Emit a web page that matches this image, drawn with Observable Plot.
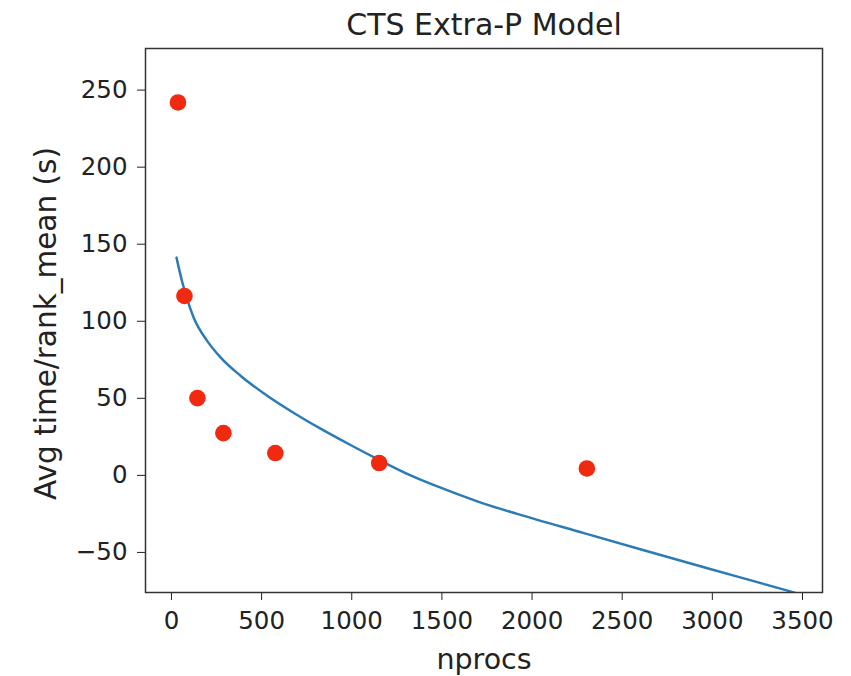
<!DOCTYPE html>
<html>
<head>
<meta charset="utf-8">
<script src="https://cdn.jsdelivr.net/npm/d3@7"></script>
<script src="https://cdn.jsdelivr.net/npm/@observablehq/plot@0.6"></script>
<style>
  html, body { margin: 0; padding: 0; background: #fff; }
</style>
</head>
<body>
<div id="chart"></div>
<script>
// Measured data points (nprocs vs avg time)
const nprocs = [36, 72, 144, 288, 576, 1152, 2304];
const avgTime = [242, 116.4, 50.1, 27.4, 14.5, 8.0, 4.5];

// Extra-P model curve
const modelX = [28, 59, 87, 124, 198, 272, 383, 531, 679, 827, 993, 1152, 1326, 1493, 1700, 1918, 2288, 2610, 2973, 3417, 3456];
const modelY = [141.3, 125.8, 114.3, 102.1, 87.3, 76.6, 64.7, 51.7, 40.5, 30.3, 19.7, 10, 0, -8, -17, -25, -37.5, -48.3, -60.3, -74.8, -76.1];

const xTicks = [0, 500, 1000, 1500, 2000, 2500, 3000, 3500];
const yTicks = [-50, 0, 50, 100, 150, 200, 250];

const title = "CTS Extra-P Model";
const xLabel = "nprocs";
const yLabel = "Avg time/rank_mean (s)";

const points = nprocs.map((x, i) => ({x, y: avgTime[i]}));
const model = modelX.map((x, i) => ({x, y: modelY[i]}));

const chart = Plot.plot({
  width: 851,
  height: 676,
  marginLeft: 145,
  marginRight: 29,
  marginTop: 48,
  marginBottom: 84,
  style: {fontFamily: "DejaVu Sans", fontSize: "24.5px", color: "#222", background: "#fff"},
  x: {domain: [-144, 3611], ticks: xTicks, tickFormat: "d", tickSize: 8, tickPadding: 11, label: null},
  y: {domain: [-76, 277], ticks: yTicks, tickFormat: "d", tickSize: 8, tickPadding: 10, label: null},
  marks: [
    Plot.line(model, {x: "x", y: "y", stroke: "#2b7bb6", strokeWidth: 2.5, curve: "monotone-x", clip: true}),
    Plot.dot(points, {x: "x", y: "y", r: 8.3, fill: "#f1290f", stroke: "none"}),
    Plot.frame({stroke: "#333", strokeWidth: 1.5}),
    Plot.text([title], {frameAnchor: "top", lineAnchor: "middle", text: d => d, dy: -23, fontSize: 30, fill: "#222"}),
    Plot.text([xLabel], {frameAnchor: "bottom", lineAnchor: "middle", text: d => d, dy: 67, fontSize: 28.5, fill: "#222"}),
    Plot.text([yLabel], {frameAnchor: "left", textAnchor: "middle", lineAnchor: "middle", text: d => d, dx: -99, dy: 3, rotate: -90, fontSize: 29.5, fill: "#222"})
  ]
});
document.getElementById("chart").appendChild(chart);
</script>
</body>
</html>
